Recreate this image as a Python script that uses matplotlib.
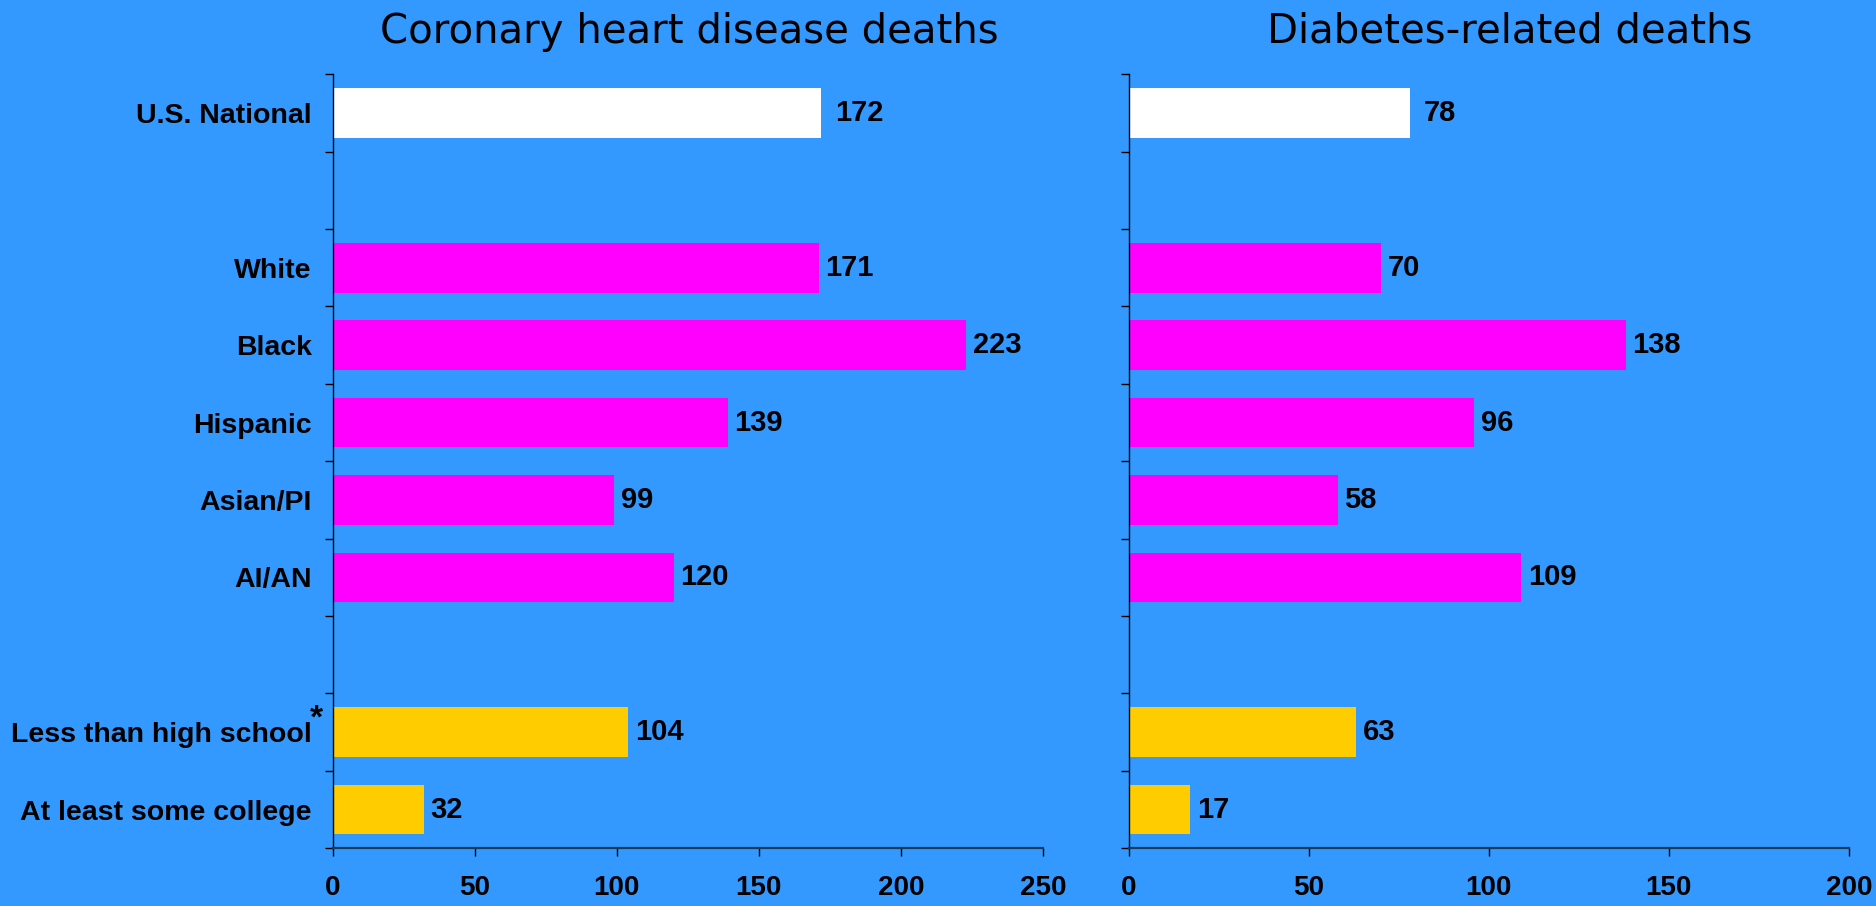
import matplotlib
matplotlib.use("Agg")
import matplotlib.pyplot as plt
import numpy as np

# ---- data ----
categories = ["U.S. National", "", "White", "Black", "Hispanic", "Asian/PI", "AI/AN",
              "", "Less than high school", "At least some college"]
chd_deaths = [172, np.nan, 171, 223, 139, 99, 120, np.nan, 104, 32]
diabetes_deaths = [78, np.nan, 70, 138, 96, 58, 109, np.nan, 63, 17]
bar_groups = ["national", "none", "race", "race", "race", "race", "race", "none", "edu", "edu"]
titles = ["Coronary heart disease deaths", "Diabetes-related deaths"]
xlims = [250, 200]
xticks = [[0, 50, 100, 150, 200, 250], [0, 50, 100, 150, 200]]

group_colors = {"national": "#FFFFFF", "race": "#FF00FF", "edu": "#FFCC00", "none": "none"}
BG = "#3399FF"

W, H = 1876, 906
fig = plt.figure(figsize=(W / 100, H / 100), dpi=100)
fig.patch.set_facecolor(BG)

plt.rcParams['font.family'] = ['Liberation Sans', 'DejaVu Sans']

ax_rects = [
    [332.6 / W, 1 - 848.3 / H, (1043 - 332.6) / W, (848.3 - 74.3) / H],
    [1128.7 / W, 1 - 848.3 / H, (1848.8 - 1128.7) / W, (848.3 - 74.3) / H],
]
title_x = [689 / W, 1510 / W]

y = np.arange(len(categories))
for i, (vals, rect) in enumerate(zip([chd_deaths, diabetes_deaths], ax_rects)):
    ax = fig.add_axes(rect)
    ax.set_facecolor(BG)
    cols = [group_colors[g] for g in bar_groups]
    v = np.array(vals, dtype=float)
    mask = ~np.isnan(v)
    ax.barh(y[mask], v[mask], height=0.64, color=np.array(cols)[mask], edgecolor='none')
    ax.set_ylim(len(categories) - 0.5, -0.5)
    ax.set_xlim(0, xlims[i])

    # value labels
    for yy, val, g in zip(y[mask], v[mask], np.array(bar_groups)[mask]):
        off = 14 if g == "national" else 7
        ax.annotate(f"{int(val)}", xy=(val, yy), xytext=(off * 0.72, 0),
                    textcoords='offset points', va='center', ha='left',
                    fontsize=21, fontweight='bold', color='black')

    # ticks
    ax.set_yticks(np.arange(-0.5, len(categories) + 0.5, 1.0))
    ax.set_yticklabels([])
    ax.tick_params(axis='y', which='major', direction='out', length=6, width=1.0, color='black')
    ax.set_yticks(y, minor=True)
    if i == 0:
        ax.set_yticklabels(categories, minor=True, fontsize=20.5, fontweight='bold')
    else:
        ax.set_yticklabels([], minor=True)
    ax.tick_params(axis='y', which='minor', length=0, pad=15)

    ax.set_xticks(xticks[i])
    ax.set_xticklabels([str(t) for t in xticks[i]], fontsize=20, fontweight='bold')
    ax.tick_params(axis='x', direction='out', length=6, width=1.0, color='black', pad=13)

    for s in ['top', 'right']:
        ax.spines[s].set_visible(False)
    ax.spines['left'].set_color('black')
    ax.spines['left'].set_linewidth(1.0)
    ax.spines['bottom'].set_color('#1a3a5c')
    ax.spines['bottom'].set_linewidth(1.6)

    fig.text(title_x[i], 1 - 42.5 / H, titles[i], ha='center', va='baseline',
             fontsize=29, family='DejaVu Sans', color='black')

# asterisk superscript
fig.text(310 / W, 1 - 719 / H, "*", ha='left', va='center', fontsize=24,
         fontweight='bold', color='black')

fig.savefig("out.png", dpi=100, facecolor=BG)
